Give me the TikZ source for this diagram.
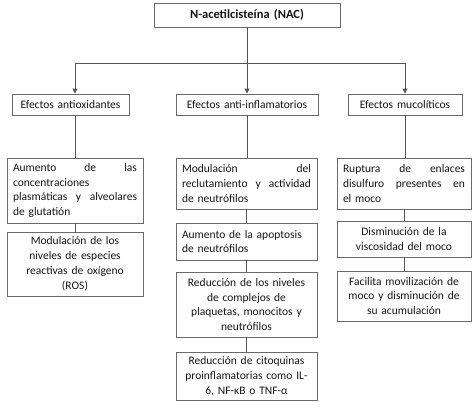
\documentclass[tikz,border=0pt]{standalone}
\usepackage{fontspec}
\setmainfont{Carlito}
\usetikzlibrary{arrows.meta}
\definecolor{linec}{HTML}{555555}
\definecolor{boxc}{HTML}{6A6A6A}
\definecolor{txt}{HTML}{151515}
\begin{document}
\begin{tikzpicture}[x=1pt,y=-1pt,
  box/.style={draw=boxc, line width=0.8pt, text=txt, font=\fontsize{11.5}{14.8}\selectfont,
    inner xsep=6pt, inner ysep=0pt, align=center},
  lbox/.style={box, align=left},
  conn/.style={draw=linec, line width=0.8pt},
  arr/.style={conn, -{Triangle[length=5pt,width=5pt]}}]
\useasboundingbox (0,0) rectangle (474,407);

% top
\node[box, font=\fontsize{12.5}{14}\selectfont\bfseries, minimum width=186pt, minimum height=24pt, text width=174pt]
  (top) at (247,15) {N-acetilcisteína (NAC)};

% level 2
\node[box, minimum width=117pt, minimum height=21pt, text width=105pt] (A) at (70.5,104.5) {Efectos antioxidantes};
\node[box, minimum width=142pt, minimum height=21pt, text width=130pt] (B) at (247,104.5) {Efectos anti-inflamatorios};
\node[box, minimum width=114pt, minimum height=21pt, text width=102pt] (C) at (405,104.5) {Efectos mucolíticos};

% left column
\node[lbox, minimum width=136pt, minimum height=65pt, text width=124pt] (L1) at (75,190.5)
  {Aumento\hfill de\hfill las\\concentraciones\\plasmáticas\hfill y\hfill alveolares\\de glutatión};
\node[box, minimum width=136pt, minimum height=64pt, text width=124pt] (L2) at (75,264)
  {Modulación de los\\niveles de especies\\reactivas de oxígeno\\(ROS)};

% middle column
\node[lbox, minimum width=141pt, minimum height=51pt, text width=129pt] (M1) at (246.5,183.5)
  {Modulación\hfill del\\reclutamiento\hfill y\hfill actividad\\de neutrófilos};
\node[lbox, minimum width=141pt, minimum height=37pt, text width=129pt] (M2) at (246.5,241.5)
  {Aumento de la apoptosis\\de neutrófilos};
\node[box, minimum width=141pt, minimum height=65pt, text width=129pt] (M3) at (246.5,304.5)
  {Reducción de los niveles\\de complejos de\\plaquetas, monocitos y\\neutrófilos};
\node[box, minimum width=141pt, minimum height=48pt, text width=129pt] (M4) at (246.5,376)
  {Reducción de citoquinas\\proinflamatorias como IL-\\6, NF-κB o TNF-α};

% right column
\node[lbox, minimum width=134pt, minimum height=51pt, text width=122pt] (R1) at (404,183.5)
  {Ruptura\hfill de\hfill enlaces\\disulfuro\hfill presentes\hfill en\\el moco};
\node[box, minimum width=134pt, minimum height=36pt, text width=122pt] (R2) at (404,239)
  {Disminución de la\\viscosidad del moco};
\node[box, minimum width=134pt, minimum height=50pt, text width=122pt] (R3) at (404,296)
  {Facilita movilización de\\moco y disminución de\\su acumulación};

% connectors
\coordinate (j) at (247,63);
\coordinate (jl) at (75,63);
\coordinate (jr) at (405,63);
\draw[conn] (top.south) -- (j);
\draw[conn] (jl) -- (jr);
\draw[arr] (jl) -- (jl |- A.north);
\draw[arr] (j) -- (B.north);
\draw[arr] (jr) -- (C.north);

\draw[conn] (L1.north |- A.south) -- (L1.north);
\draw[conn] (B.south) -- (B.south |- M1.north);
\draw[conn] (C.south) -- (C.south |- R1.north);

\draw[conn] (L1.south) -- (L2.north);
\draw[conn] (M1.south) -- (M2.north);
\draw[conn] (M2.south) -- (M3.north);
\draw[conn] (M3.south) -- (M4.north);
\draw[conn] (R1.south) -- (R2.north);
\draw[conn] (R2.south) -- (R3.north);
\end{tikzpicture}
\end{document}
